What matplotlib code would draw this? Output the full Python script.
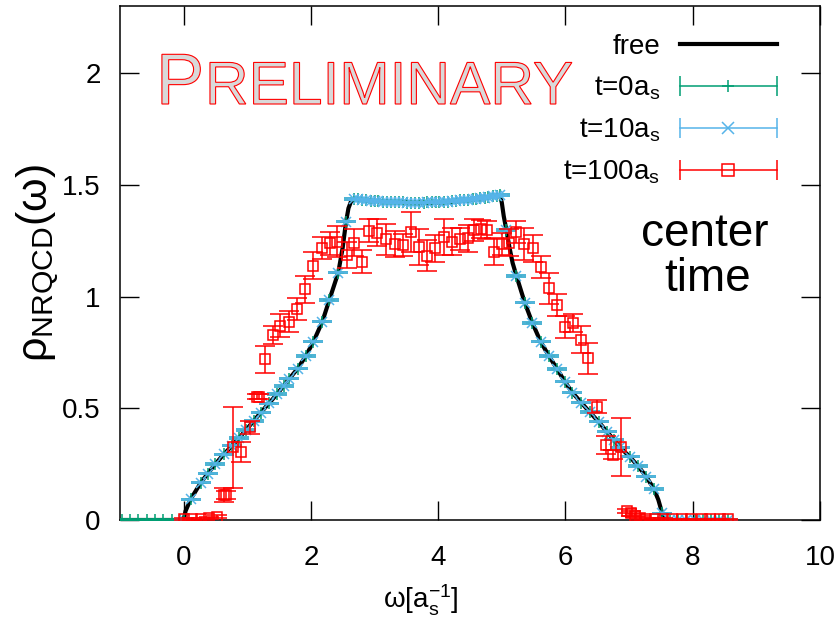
import matplotlib as mpl
mpl.use('Agg')
import matplotlib.pyplot as plt
import matplotlib.patheffects as pe
from matplotlib.lines import Line2D
from matplotlib.legend_handler import HandlerBase

plt.rcParams['font.family'] = ['Liberation Sans', 'DejaVu Sans']
plt.rcParams['mathtext.fontset'] = 'custom'
plt.rcParams['mathtext.rm'] = 'Liberation Sans'
plt.rcParams['mathtext.it'] = 'Liberation Sans:italic'

# free (continuum) spectral function
free_x = [-1.0, 0.0, 0.03, 0.11, 0.27, 0.38, 0.50, 0.63, 0.76, 0.87, 0.98, 1.10, 1.21,
          1.34, 1.47, 1.57, 1.66, 1.79, 1.92, 2.04, 2.18, 2.29, 2.43, 2.50, 2.55, 2.59,
          2.63, 2.68, 2.80, 3.0, 3.3, 3.7, 4.0, 4.3, 4.6, 4.8, 4.97, 5.00, 5.03, 5.07,
          5.12, 5.17, 5.23, 5.36, 5.48, 5.61, 5.74, 5.87, 5.99, 6.11, 6.25, 6.38, 6.52,
          6.65, 6.76, 6.86, 7.01, 7.14, 7.27, 7.39, 7.46, 7.51, 7.56, 8.6]
free_y = [0.0, 0.0, 0.04, 0.093, 0.167, 0.208, 0.251, 0.294, 0.332, 0.367, 0.403, 0.443, 0.480,
          0.522, 0.564, 0.600, 0.632, 0.677, 0.734, 0.798, 0.888, 0.985, 1.107, 1.22, 1.33, 1.395,
          1.425, 1.437, 1.433, 1.428, 1.423, 1.420, 1.420, 1.425, 1.435, 1.443, 1.455, 1.42, 1.36, 1.30,
          1.22, 1.15, 1.092, 0.973, 0.882, 0.798, 0.734, 0.675, 0.619, 0.570, 0.525, 0.483, 0.440,
          0.395, 0.360, 0.325, 0.283, 0.242, 0.194, 0.139, 0.09, 0.04, 0.0, 0.0]

# lattice points (t=0as and t=10as are practically identical)
neg_x = [-0.97, -0.84, -0.71, -0.58, -0.45, -0.32, -0.19, -0.06]
neg_y = [0, 0, 0, 0, 0, 0, 0, 0]
rise_x = [0.0, 0.11, 0.27, 0.38, 0.50, 0.63, 0.76, 0.87, 0.98, 1.10, 1.21, 1.34, 1.47,
          1.57, 1.66, 1.79, 1.92, 2.04, 2.18, 2.29, 2.43, 2.55]
rise_y = [0.0, 0.093, 0.167, 0.208, 0.251, 0.294, 0.332, 0.367, 0.403, 0.443, 0.480, 0.522, 0.564,
          0.600, 0.632, 0.677, 0.734, 0.798, 0.888, 0.985, 1.107, 1.335]
plat_x = [2.68, 2.74, 2.81, 2.87, 2.94, 3.00, 3.06, 3.13, 3.19, 3.26, 3.32, 3.38, 3.45,
          3.51, 3.58, 3.64, 3.70, 3.77, 3.83, 3.90, 3.96, 4.02, 4.09, 4.15, 4.22, 4.28,
          4.34, 4.41, 4.47, 4.54, 4.60, 4.66, 4.73, 4.79, 4.86, 4.92, 4.97]
plat_y = [1.437, 1.435, 1.433, 1.431, 1.429, 1.428, 1.426, 1.425, 1.424, 1.423, 1.422, 1.421, 1.421,
          1.420, 1.420, 1.420, 1.420, 1.420, 1.421, 1.421, 1.422, 1.423, 1.424, 1.425, 1.427, 1.428,
          1.430, 1.432, 1.434, 1.436, 1.438, 1.441, 1.443, 1.446, 1.449, 1.452, 1.455]
fall_x = [5.07, 5.23, 5.36, 5.48, 5.61, 5.74, 5.87, 5.99, 6.11, 6.25, 6.38, 6.52, 6.65,
          6.76, 6.86, 7.01, 7.14, 7.27, 7.39, 7.51]
fall_y = [1.298, 1.092, 0.973, 0.882, 0.798, 0.734, 0.675, 0.619, 0.570, 0.525, 0.483, 0.440, 0.395,
          0.360, 0.325, 0.283, 0.242, 0.194, 0.139, 0.030]
tail_x = [7.64, 7.77, 7.90, 8.03, 8.16, 8.29, 8.42, 8.55]
tail_y = [0, 0, 0, 0, 0, 0, 0, 0]
lat_err = 0.003

t0_x = neg_x + rise_x + plat_x + fall_x + tail_x
t0_y = neg_y + rise_y + plat_y + fall_y + tail_y
t10_x = rise_x + plat_x + fall_x + tail_x
t10_y = rise_y + plat_y + fall_y + tail_y

# t=100as
t100_x = [0.00, 0.13, 0.27, 0.40, 0.53, 0.635, 0.66, 0.77, 0.90, 1.04, 1.16, 1.18, 1.28,
          1.40, 1.52, 1.66, 1.78, 1.91, 2.04, 2.17, 2.30, 2.41, 2.57, 2.68, 2.80, 2.92,
          3.04, 3.18, 3.32, 3.44, 3.57, 3.70, 3.82, 3.95, 4.09, 4.22, 4.35, 4.47, 4.56,
          4.68, 4.77, 4.88, 5.00, 5.11, 5.23, 5.35, 5.49, 5.61, 5.74, 5.87, 5.99, 6.12,
          6.24, 6.36, 6.50, 6.63, 6.75, 6.88, 6.97, 7.03, 7.10, 7.17, 7.27, 7.40, 7.53,
          7.67, 7.83, 7.98, 8.14, 8.27, 8.43, 8.56]
t100_y = [0.005, 0.005, 0.005, 0.008, 0.015, 0.112, 0.112, 0.325, 0.306, 0.415, 0.552, 0.552, 0.720,
          0.828, 0.870, 0.888, 0.943, 1.033, 1.138, 1.216, 1.238, 1.246, 1.186, 1.241, 1.156, 1.295,
          1.286, 1.256, 1.235, 1.231, 1.290, 1.223, 1.182, 1.216, 1.265, 1.246, 1.256, 1.261, 1.298,
          1.301, 1.298, 1.201, 1.235, 1.241, 1.290, 1.235, 1.216, 1.131, 1.037, 0.962, 0.865, 0.883,
          0.806, 0.724, 0.507, 0.336, 0.291, 0.328, 0.040, 0.030, 0.020, 0.010, 0.005, 0.004, 0.004,
          0.003, 0.003, 0.003, 0.003, 0.003, 0.003, 0.003]
t100_err = [0.004, 0.004, 0.004, 0.005, 0.006, 0.03, 0.02, 0.18, 0.045, 0.03, 0.01, 0.01, 0.06,
            0.04, 0.05, 0.045, 0.05, 0.06, 0.06, 0.05, 0.05, 0.07, 0.06, 0.06, 0.05, 0.05,
            0.06, 0.07, 0.06, 0.05, 0.09, 0.08, 0.07, 0.06, 0.08, 0.06, 0.05, 0.06, 0.05,
            0.04, 0.04, 0.06, 0.05, 0.06, 0.05, 0.07, 0.06, 0.05, 0.07, 0.05, 0.05, 0.04,
            0.06, 0.07, 0.03, 0.04, 0.02, 0.13, 0.01, 0.01, 0.008, 0.006, 0.004, 0.003, 0.003,
            0.003, 0.003, 0.003, 0.003, 0.003, 0.003, 0.003]

x_ticks = [0, 2, 4, 6, 8, 10]
y_ticks = [0, 0.5, 1, 1.5, 2]
y_ticklabels = ['0', '0.5', '1', '1.5', '2']

GREEN = '#009e73'
BLUE = '#56b4e9'
RED = '#ff0000'


class GnuplotBar(HandlerBase):
    # gnuplot-like key sample: horizontal bar with end ticks and the point in the middle
    def create_artists(self, legend, orig, xd, yd, w, h, fs, trans):
        y = h / 2 - yd
        c = orig.get_color()
        bar = Line2D([-xd, w - xd], [y, y], color=c, lw=1.1, transform=trans)
        ends = Line2D([-xd, w - xd], [y, y], ls='none', marker='|', ms=14, mew=1.1,
                      color=c, transform=trans)
        mid = Line2D([w / 2 - xd], [y], ls='none', marker=orig.get_marker(),
                     ms=orig.get_markersize(), mfc='none', mec=c, mew=1.1, transform=trans)
        return [bar, ends, mid]


fig = plt.figure(figsize=(8.4, 6.42), dpi=100)
ax = fig.add_axes([120 / 840, 1 - 520 / 642, 700 / 840, 514 / 642])

ax.plot(free_x, free_y, color='black', lw=3, zorder=2)
ax.errorbar(t0_x, t0_y, yerr=lat_err, fmt='+', color=GREEN, ms=9, mew=1.1,
            elinewidth=1.1, capsize=7, capthick=1.1, zorder=3)
ax.errorbar(t10_x, t10_y, yerr=lat_err, fmt='x', color=BLUE, ms=7, mew=1.1,
            elinewidth=1.1, capsize=7, capthick=1.1, zorder=4)
ax.errorbar(t100_x, t100_y, yerr=t100_err, fmt='s', color=RED, mfc='none', ms=7, mew=1.1,
            elinewidth=1.1, capsize=7, capthick=1.1, zorder=5)

ax.set_xlim(-1, 10)
ax.set_ylim(0, 2.3)
ax.set_xticks(x_ticks)
ax.set_yticks(y_ticks)
ax.set_yticklabels(y_ticklabels)
ax.tick_params(direction='in', length=14, width=1, top=True, right=True, labelsize=20)
ax.tick_params(axis='x', pad=18)
ax.tick_params(axis='y', pad=14)
for s in ax.spines.values():
    s.set_linewidth(1.1)

ax.set_xlabel('ω[a$_{\\mathrm{s}}^{\\mathrm{-1}}$]', fontsize=20)
ax.xaxis.set_label_coords(0.43, -0.156)
ax.xaxis.label.set_va('center')
ax.set_ylabel('ρ$_{\\mathrm{NRQCD}}$(ω)', fontsize=31)
ax.yaxis.set_label_coords(-0.117, 0.50)
ax.yaxis.label.set_va('center')

# key
h_free = Line2D([], [], color='black', lw=3)
h_t0 = Line2D([], [], color=GREEN, marker='+', ms=9)
h_t10 = Line2D([], [], color=BLUE, marker='x', ms=8)
h_t100 = Line2D([], [], color=RED, marker='s', ms=8)
bar = GnuplotBar()
ax.legend([h_free, h_t0, h_t10, h_t100],
          ['free', 't=0a$_{\\mathrm{s}}$', 't=10a$_{\\mathrm{s}}$', 't=100a$_{\\mathrm{s}}$'],
          handler_map={h_t0: bar, h_t10: bar, h_t100: bar},
          loc='upper right', bbox_to_anchor=(0.9386, 0.946), frameon=False, fontsize=20,
          markerfirst=False, handlelength=3.5, handletextpad=0.7, labelspacing=0.53,
          borderpad=0, borderaxespad=0)

# preliminary stamp
stamp = [pe.PathPatchEffect(edgecolor='red', facecolor='#d9d9d9', linewidth=0.8)]
fig.text(156 / 840, 1 - 104 / 642, 'P', fontsize=52, va='baseline', ha='left',
         path_effects=stamp)
fig.text(205 / 840, 1 - 104 / 642, 'RELIMINARY', fontsize=43.5, va='baseline', ha='left',
         path_effects=stamp)

fig.text(705 / 840, 1 - 246 / 642, 'center', fontsize=33, ha='center', va='baseline')
fig.text(708 / 840, 1 - 291 / 642, 'time', fontsize=33, ha='center', va='baseline')

plt.savefig('out.png')
plt.close()
